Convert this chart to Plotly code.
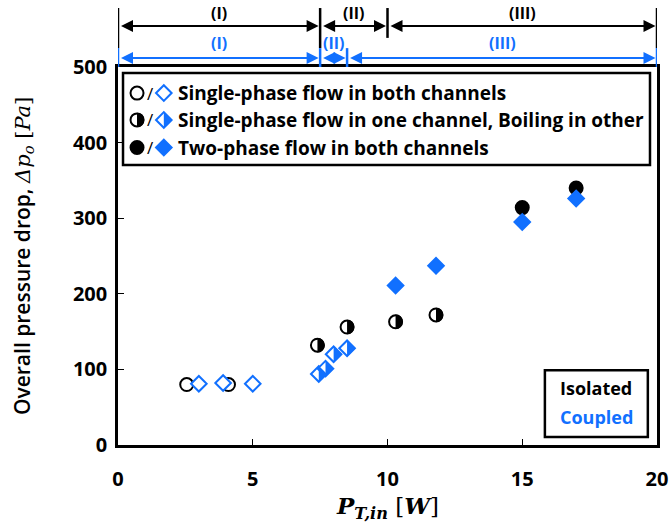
import plotly.graph_objects as go

# ---------------- data ----------------
iso_single_x = [2.55, 4.1]
iso_single_y = [80, 80]
iso_half_x = [7.4, 8.5, 10.3, 11.8]
iso_half_y = [132, 156, 163, 172]
iso_two_x = [15.0, 17.0]
iso_two_y = [314, 340]

cpl_single_x = [3.0, 3.9, 5.0]
cpl_single_y = [81, 82, 81]
cpl_half_x = [7.45, 7.7, 8.0, 8.5]
cpl_half_y = [94, 101, 120, 128]
cpl_two_x = [10.3, 11.8, 15.0, 17.0]
cpl_two_y = [211, 237, 295, 326]

iso_bounds = [0, 7.5, 10, 20]
cpl_bounds = [0, 7.5, 8.5, 20]
region_labels = ["(I)", "(II)", "(III)"]

legend_labels = ["Single-phase flow in both channels",
                 "Single-phase flow in one channel, Boiling in other",
                 "Two-phase flow in both channels"]

x_ticks = [0, 5, 10, 15, 20]
y_ticks = [0, 100, 200, 300, 400, 500]

BLUE = "#1170FF"
BLACK = "#000000"
SANS = "Open Sans"
SERIF = "DejaVu Serif"

C_SIZE = 13
D_SIZE = 12
C_R = 7.2
D_R = 8.2

fig = go.Figure()


def circ_half_path(r):
    k = 0.5523 * r
    return f"M 0,{r} C {k},{r} {r},{k} {r},0 C {r},{-k} {k},{-r} 0,{-r} Z"


def diam_half_path(r):
    return f"M 0,{r} L {r},0 L 0,{-r} Z"


shapes = []


def add_series(xs, ys, kind, fill, xref="x", yref="y"):
    if kind == "circle":
        color = BLACK
        sym = "circle"
        size = C_SIZE
    else:
        color = BLUE
        sym = "diamond"
        size = D_SIZE
    fig.add_trace(go.Scatter(
        x=xs, y=ys, mode="markers", xaxis=xref, yaxis=yref,
        marker=dict(symbol=sym, size=size,
                    color=(color if fill == "full" else "white"),
                    line=dict(color=color, width=2)),
        showlegend=False, hoverinfo="skip", cliponaxis=False))
    if fill == "half":
        path = circ_half_path(C_R) if kind == "circle" else diam_half_path(D_R)
        for xv, yv in zip(xs, ys):
            shapes.append(dict(type="path", xref=xref, yref=yref,
                               xsizemode="pixel", ysizemode="pixel",
                               xanchor=xv, yanchor=yv, path=path,
                               fillcolor=color, line=dict(width=0),
                               layer="above"))


add_series(iso_single_x, iso_single_y, "circle", "open")
add_series(cpl_single_x, cpl_single_y, "diamond", "open")
add_series(iso_half_x, iso_half_y, "circle", "half")
add_series(cpl_half_x, cpl_half_y, "diamond", "half")
add_series(iso_two_x, iso_two_y, "circle", "full")
add_series(cpl_two_x, cpl_two_y, "diamond", "full")

# ---------------- legend (custom box) ----------------
leg_rows_y = [0.931, 0.860, 0.787]
leg_c_x = 0.0353
leg_d_x = 0.085
fills = ["open", "half", "full"]
for ry, f in zip(leg_rows_y, fills):
    add_series([leg_c_x], [ry], "circle", f, xref="x2", yref="y2")
    add_series([leg_d_x], [ry], "diamond", f, xref="x2", yref="y2")

annotations = []
for ry, lab in zip(leg_rows_y, legend_labels):
    annotations.append(dict(xref="paper", yref="paper", x=0.0595, y=ry,
                            text="/", showarrow=False, xanchor="center",
                            yanchor="middle",
                            font=dict(family=SANS, size=17, color=BLACK)))
    annotations.append(dict(xref="paper", yref="paper", x=0.107, y=ry,
                            text=lab, showarrow=False,
                            xanchor="left", yanchor="middle",
                            font=dict(family=SANS, size=19, color=BLACK,
                                      weight="bold")))

shapes.append(dict(type="rect", xref="paper", yref="paper",
                   x0=0.0093, x1=0.987, y0=0.741, y1=0.984,
                   line=dict(color=BLACK, width=2.5), fillcolor="rgba(0,0,0,0)"))

# Isolated / Coupled box
shapes.append(dict(type="rect", xref="paper", yref="paper",
                   x0=0.792, x1=0.983, y0=0.021, y1=0.198,
                   line=dict(color=BLACK, width=2.5), fillcolor="rgba(0,0,0,0)"))
annotations.append(dict(xref="paper", yref="paper", x=0.887, y=0.151,
                        text="Isolated", showarrow=False,
                        xanchor="center", yanchor="middle",
                        font=dict(family=SANS, size=18, color=BLACK,
                                  weight="bold")))
annotations.append(dict(xref="paper", yref="paper", x=0.887, y=0.075,
                        text="Coupled", showarrow=False,
                        xanchor="center", yanchor="middle",
                        font=dict(family=SANS, size=18, color=BLUE,
                                  weight="bold")))

# ---------------- regime markers above plot ----------------
Y_TOP = 1.156
Y_MID = 1.050
Y_TICK10 = 1.077
Y_ARR_B = 1.1085
Y_ARR_C = 1.0238
Y_LAB_B = 1.144
Y_LAB_C = 1.064

for b in iso_bounds:
    bot = Y_TICK10 if b not in cpl_bounds else Y_MID
    shapes.append(dict(type="line", xref="x", yref="paper", x0=b, x1=b,
                       y0=bot, y1=Y_TOP, line=dict(color=BLACK, width=2.5)))
for b in cpl_bounds:
    shapes.append(dict(type="line", xref="x", yref="paper", x0=b, x1=b,
                       y0=1.0, y1=Y_MID, line=dict(color=BLUE, width=2.5)))

for bounds, yarr, ylab, col in [(iso_bounds, Y_ARR_B, Y_LAB_B, BLACK),
                                (cpl_bounds, Y_ARR_C, Y_LAB_C, BLUE)]:
    for i in range(3):
        a, b = bounds[i], bounds[i + 1]
        annotations.append(dict(xref="x", yref="paper", x=b, y=yarr,
                                axref="x", ayref="pixel", ax=a, ay=0,
                                text="", showarrow=True,
                                arrowside="end+start", arrowhead=2,
                                startarrowhead=2, arrowsize=1.2,
                                startarrowsize=1.2,
                                arrowwidth=2, arrowcolor=col,
                                standoff=1.5, startstandoff=1.5))
        annotations.append(dict(xref="x", yref="paper", x=(a + b) / 2,
                                y=ylab, text=f"<b>{region_labels[i]}</b>",
                                showarrow=False, xanchor="center",
                                yanchor="middle",
                                font=dict(family=SANS, size=16, color=col)))

# ---------------- axis titles ----------------
annotations.append(dict(
    xref="paper", yref="paper", x=-0.178, y=0.5, textangle=-90,
    showarrow=False, xanchor="center", yanchor="middle",
    text=("<span style='font-family:Open Sans;font-weight:600'>"
          "Overall pressure drop, </span>"
          "<span style='font-family:DejaVu Serif'><i>Δp</i><sub><i>o</i></sub>"
          " [<i>Pa</i>]</span>"),
    font=dict(family=SANS, size=21, color=BLACK)))
annotations.append(dict(
    xref="paper", yref="paper", x=0.5, y=-0.165, showarrow=False,
    xanchor="center", yanchor="middle",
    text="<b><i>P</i></b><sub><b><i>T,in</i></b></sub> [<b><i>W</i></b>]",
    font=dict(family=SERIF, size=23, color=BLACK)))

fig.update_layout(
    width=672, height=531,
    margin=dict(l=118, r=15, t=67, b=86, autoexpand=False),
    plot_bgcolor="white", paper_bgcolor="white",
    showlegend=False,
    shapes=shapes, annotations=annotations,
    xaxis=dict(range=[0, 20], tickvals=x_ticks, ticks="inside", ticklen=6,
               tickwidth=1.2, tickcolor=BLACK, showgrid=False, zeroline=False,
               showline=True, linecolor=BLACK, linewidth=2.5, mirror=True,
               ticklabelstandoff=14, automargin=False,
               tickfont=dict(family=SANS, size=20, color=BLACK, weight="bold")),
    yaxis=dict(range=[0, 500], tickvals=y_ticks, ticks="inside", ticklen=6,
               tickwidth=1.2, tickcolor=BLACK, showgrid=False, zeroline=False,
               showline=True, linecolor=BLACK, linewidth=2.5, mirror=True,
               ticklabelstandoff=4, automargin=False,
               tickfont=dict(family=SANS, size=20, color=BLACK, weight="bold")),
    xaxis2=dict(range=[0, 1], overlaying="x", visible=False, anchor="y2"),
    yaxis2=dict(range=[0, 1], overlaying="y", visible=False, anchor="x2"),
)

fig.write_html("out.html")
